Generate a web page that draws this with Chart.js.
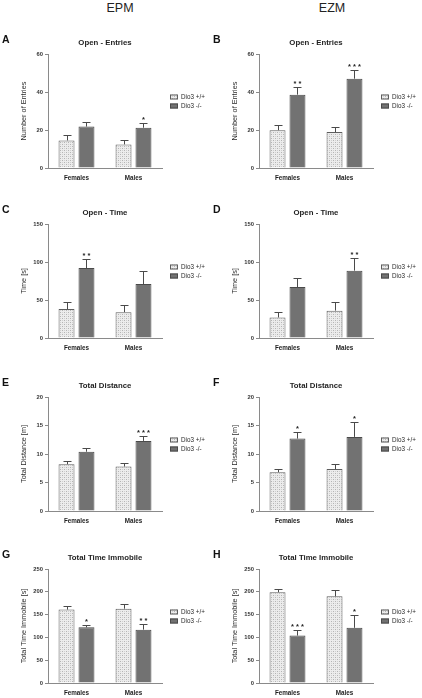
<!DOCTYPE html>
<html>
<head>
<meta charset="utf-8">
<script src="https://cdn.jsdelivr.net/npm/chart.js@4/dist/chart.umd.min.js"></script>
<style>
  body { margin: 0; background: #fff; }
  #page { position: relative; width: 422px; height: 698px; overflow: hidden; font-family: "Liberation Sans", Arial, sans-serif; }
  .head { position: absolute; top: 1px; width: 60px; text-align: center; font-size: 12.5px; color: #222; }
  canvas { position: absolute; }
</style>
</head>
<body>
<div id="page">
  <div class="head" style="left:90px">EPM</div>
  <div class="head" style="left:302px">EZM</div>
</div>
<script>
const categories = ["Females", "Males"];
const seriesLabels = ["Dio3 +/+", "Dio3 -/-"];
const panelLetters = ["A", "B", "C", "D", "E", "F", "G", "H"];
const panelTitles = ["Open - Entries", "Open - Entries", "Open - Time", "Open - Time",
  "Total Distance", "Total Distance", "Total Time Immobile", "Total Time Immobile"];
const yTitles = ["Number of Entries", "Number of Entries", "Time [s]", "Time [s]",
  "Total Distance [m]", "Total Distance [m]", "Total Time Immobile [s]", "Total Time Immobile [s]"];
const yMax = [60, 60, 150, 150, 20, 20, 250, 250];
const yStep = [20, 20, 50, 50, 5, 5, 50, 50];

// mean per category (Females, Males)
const wildType = [[14.5, 12.4], [19.9, 18.9], [38, 34], [27, 36], [8.2, 7.8], [6.8, 7.35], [161, 163], [199, 190]];
const wildTypeSem = [[2.7, 2.3], [2.9, 2.8], [9, 9], [7, 11], [0.5, 0.7], [0.6, 0.95], [8, 11], [8, 14]];
const knockout = [[21.8, 21.2], [38.6, 47], [92, 71], [67, 88.6], [10.4, 12.3], [12.7, 13], [122, 117], [104, 121]];
const knockoutSem = [[2.3, 2.3], [4.1, 4.7], [12, 17], [12, 16.5], [0.6, 0.9], [1.2, 2.6], [6, 13], [12, 29]];
const knockoutStars = [["", "*"], ["**", "***"], ["**", ""], ["", "**"], ["", "***"], ["*", "*"], ["*", "**"], ["***", "*"]];

const rowTops = [14, 184, 357, 529];
const FONT = '"Liberation Sans", Arial, sans-serif';

function makePattern() {
  const c = document.createElement("canvas");
  c.width = 4; c.height = 4;
  const g = c.getContext("2d");
  g.fillStyle = "#ececec";
  g.fillRect(0, 0, 4, 4);
  g.fillStyle = "#b4b4b4";
  g.fillRect(0, 0, 1, 1);
  g.fillRect(2, 2, 1, 1);
  g.fillStyle = "#d0d0d0";
  g.fillRect(2, 0, 1, 1);
  g.fillRect(0, 2, 1, 1);
  return g.createPattern(c, "repeat");
}
const hatch = makePattern();

const decorations = {
  id: "decorations",
  afterDatasetsDraw(chart, args, opts) {
    const ctx = chart.ctx;
    const yScale = chart.scales.y;
    const sems = [opts.wtSem, opts.koSem];
    ctx.save();
    ctx.strokeStyle = "#4a4a4a";
    ctx.lineWidth = 1;
    chart.data.datasets.forEach((ds, di) => {
      chart.getDatasetMeta(di).data.forEach((bar, i) => {
        const top = yScale.getPixelForValue(ds.data[i] + sems[di][i]);
        const x = Math.round(bar.x) + 0.5;
        ctx.beginPath();
        ctx.moveTo(x, bar.y);
        ctx.lineTo(x, Math.round(top) + 0.5);
        ctx.moveTo(x - 4, Math.round(top) + 0.5);
        ctx.lineTo(x + 4, Math.round(top) + 0.5);
        ctx.stroke();
        if (di === 1 && opts.stars[i]) {
          ctx.fillStyle = "#222";
          ctx.font = "bold 7.5px " + FONT;
          ctx.textAlign = "center";
          ctx.textBaseline = "alphabetic";
          ctx.fillText(opts.stars[i].split("").join(" "), x, top - 1);
        }
      });
    });
    ctx.restore();
  },
  afterDraw(chart, args, opts) {
    const ctx = chart.ctx;
    const area = chart.chartArea;
    ctx.save();
    ctx.fillStyle = "#111";
    ctx.textBaseline = "middle";
    ctx.font = "bold 10.5px " + FONT;
    ctx.textAlign = "left";
    ctx.fillText(opts.letter, 2, 26);
    ctx.font = "bold 7.8px " + FONT;
    ctx.textAlign = "center";
    ctx.fillStyle = "#1e1e1e";
    ctx.fillText(opts.title, (area.left + area.right) / 2, 29);
    ctx.save();
    ctx.translate(24, (area.top + area.bottom) / 2);
    ctx.rotate(-Math.PI / 2);
    ctx.font = "7.3px " + FONT;
    ctx.fillStyle = "#2a2a2a";
    ctx.fillText(opts.yTitle, 0, 0);
    ctx.restore();
    // legend
    ctx.textAlign = "left";
    ctx.font = "6.3px " + FONT;
    chart.data.datasets.forEach((ds, di) => {
      const y = 83 + di * 9;
      ctx.fillStyle = ds.backgroundColor;
      ctx.fillRect(170, y - 2.5, 8, 5);
      ctx.strokeStyle = ds.borderColor;
      ctx.lineWidth = 1;
      ctx.strokeRect(170.5, y - 2, 7, 4);
      ctx.fillStyle = "#2a2a2a";
      ctx.fillText(ds.label, 181, y);
    });
    ctx.restore();
  }
};

const page = document.getElementById("page");
for (let p = 0; p < 8; p++) {
  const canvas = document.createElement("canvas");
  canvas.width = 211;
  canvas.height = 170;
  canvas.style.left = (p % 2) * 211 + "px";
  canvas.style.top = rowTops[Math.floor(p / 2)] + "px";
  page.appendChild(canvas);

  new Chart(canvas.getContext("2d"), {
    type: "bar",
    data: {
      labels: categories,
      datasets: [
        {
          label: seriesLabels[0],
          data: wildType[p],
          backgroundColor: hatch,
          borderColor: "#5e5e5e",
          borderWidth: 1,
          categoryPercentage: 0.7,
          barPercentage: 0.8,
        },
        {
          label: seriesLabels[1],
          data: knockout[p],
          backgroundColor: "#727272",
          borderColor: "#4a4a4a",
          borderWidth: 1,
          categoryPercentage: 0.7,
          barPercentage: 0.8,
        },
      ],
    },
    options: {
      responsive: false,
      animation: false,
      devicePixelRatio: 1,
      layout: { padding: { top: 40, right: 49, bottom: 0, left: 0 } },
      scales: {
        x: {
          grid: { display: false, drawTicks: false },
          border: { display: true, color: "#8a8a8a" },
          ticks: { font: { family: FONT, size: 6.3, weight: "bold" }, color: "#1e1e1e", padding: 6 },
          afterFit(s) { s.height = 16; },
        },
        y: {
          min: 0,
          max: yMax[p],
          grid: { drawOnChartArea: false, drawTicks: true, tickLength: 3, color: "#8a8a8a" },
          border: { display: true, color: "#8a8a8a" },
          ticks: { stepSize: yStep[p], font: { family: FONT, size: 5.8, weight: "bold" }, color: "#333", padding: 2 },
          afterFit(s) { s.width = 48; },
        },
      },
      plugins: {
        legend: { display: false },
        title: { display: false },
        tooltip: { enabled: false },
        decorations: {
          letter: panelLetters[p],
          title: panelTitles[p],
          yTitle: yTitles[p],
          wtSem: wildTypeSem[p],
          koSem: knockoutSem[p],
          stars: knockoutStars[p],
        },
      },
    },
    plugins: [decorations],
  });
}
</script>
</body>
</html>
